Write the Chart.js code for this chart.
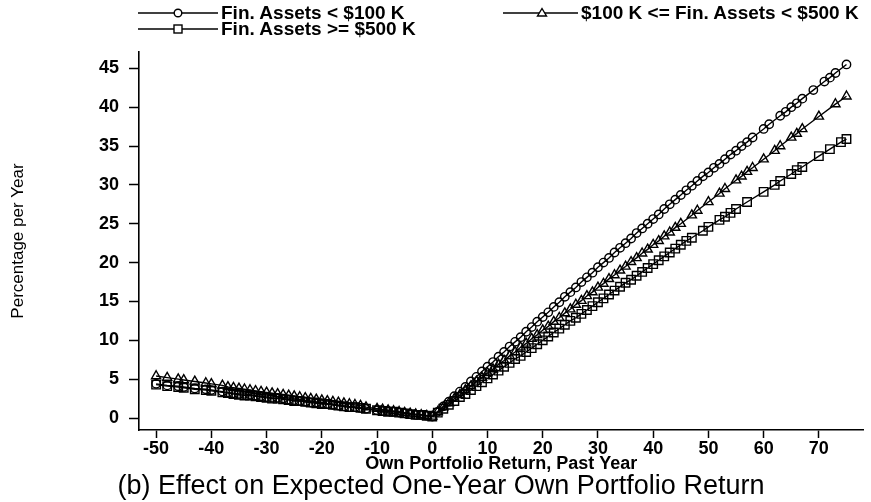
<!DOCTYPE html>
<html><head><meta charset="utf-8">
<script src="https://cdn.jsdelivr.net/npm/chart.js@4.4.0/dist/chart.umd.min.js"></script>
<style>
html,body{margin:0;padding:0;background:#fff;}
#wrap{position:relative;width:871px;height:502px;overflow:hidden;}
#c{position:absolute;left:0;top:0;}
.leg{position:absolute;height:16px;font-family:"Liberation Sans",Arial,sans-serif;font-weight:bold;font-size:19px;line-height:16px;color:#000;white-space:nowrap;display:flex;align-items:center;}
.leg svg{display:block;margin-right:3px;}
</style></head>
<body><div id="wrap"><canvas id="c" width="871" height="502"></canvas>
<div class="leg" style="left:138px;top:5px"><svg width="80" height="16"><line x1="0" y1="8" x2="80" y2="8" stroke="#000" stroke-width="1.5"/><circle cx="40" cy="8" r="3.8" fill="#fff" stroke="#000" stroke-width="1.4"/></svg><span>Fin. Assets &lt; $100 K</span></div>
<div class="leg" style="left:503px;top:5px"><svg width="75" height="16"><line x1="0" y1="8" x2="75" y2="8" stroke="#000" stroke-width="1.5"/><polygon points="39,3.5 43.5,11 34.5,11" fill="#fff" stroke="#000" stroke-width="1.4"/></svg><span>$100 K &lt;= Fin. Assets &lt; $500 K</span></div>
<div class="leg" style="left:138px;top:21px"><svg width="80" height="16"><line x1="0" y1="8" x2="80" y2="8" stroke="#000" stroke-width="1.5"/><rect x="36" y="4" width="8" height="8" fill="#fff" stroke="#000" stroke-width="1.4"/></svg><span>Fin. Assets &gt;= $500 K</span></div>
</div>
<script>
// ---- data ----
const xTickValues = [-50,-40,-30,-20,-10,0,10,20,30,40,50,60,70];
const yTickValues = [0,5,10,15,20,25,30,35,40,45];

const negX = [-50,-48,-46,-45,-43,-41,-40,-38,-37,-36,-35,-34,-33,-32,-31,-30,-29,-28,-27,-26,-25,-24,-23,-22,-21,-20,-19,-18,-17,-16,-15,-14,-13,-12,-10,-9,-8,-7,-6,-5,-4,-3,-2,-1,0];

const lowNegY  = [4.4,4.2,4.1,4.0,3.8,3.7,3.6,3.4,3.3,3.2,3.1,3.1,3.0,2.9,2.8,2.7,2.6,2.6,2.5,2.4,2.3,2.2,2.1,2.0,2.0,1.9,1.8,1.7,1.6,1.5,1.4,1.4,1.3,1.2,1.0,0.9,0.9,0.8,0.7,0.6,0.5,0.4,0.4,0.3,0.2];
const midNegY  = [5.4,5.2,5.0,4.9,4.7,4.5,4.4,4.2,4.0,3.9,3.8,3.7,3.6,3.5,3.4,3.3,3.2,3.1,3.0,2.9,2.8,2.7,2.6,2.5,2.4,2.3,2.2,2.1,2.0,1.9,1.8,1.7,1.6,1.4,1.2,1.1,1.0,0.9,0.8,0.7,0.6,0.5,0.4,0.3,0.2];
const highNegY = [4.3,4.1,4.0,3.9,3.7,3.6,3.5,3.3,3.2,3.1,3.0,2.9,2.9,2.8,2.7,2.6,2.5,2.5,2.4,2.3,2.2,2.2,2.1,2.0,1.9,1.8,1.8,1.7,1.6,1.5,1.4,1.4,1.3,1.2,1.0,0.9,0.8,0.8,0.7,0.6,0.5,0.4,0.4,0.3,0.2];

const lowPosX = [1,2,3,4,5,6,7,8,9,10,11,12,13,14,15,16,17,18,19,20,21,22,23,24,25,26,27,28,29,30,31,32,33,34,35,36,37,38,39,40,41,42,43,44,45,46,47,48,49,50,51,52,53,54,55,56,57,58,60,61,63,64,65,66,67,69,71,72,73,75];
const lowPosY = [0.8,1.5,2.1,2.8,3.4,4.0,4.7,5.3,6.0,6.6,7.2,7.9,8.5,9.2,9.8,10.4,11.1,11.7,12.4,13.0,13.6,14.3,14.9,15.6,16.2,16.8,17.5,18.1,18.7,19.4,20.0,20.6,21.3,21.9,22.5,23.1,23.8,24.4,25.0,25.6,26.2,26.9,27.5,28.1,28.7,29.3,29.9,30.5,31.1,31.6,32.2,32.7,33.3,33.9,34.4,35.0,35.5,36.1,37.2,37.8,38.9,39.4,40.0,40.5,41.1,42.2,43.3,43.8,44.4,45.5];

const midPosX = [1,2,3,4,5,6,7,8,9,10,11,12,13,14,15,16,17,18,19,20,21,22,23,24,25,26,27,28,29,30,31,32,33,34,35,36,37,38,39,40,41,42,43,44,45,47,48,50,52,53,55,56,57,58,60,62,63,65,66,67,70,73,75];
const midPosY = [0.8,1.4,1.9,2.5,3.0,3.6,4.1,4.7,5.2,5.8,6.3,6.9,7.4,8.0,8.5,9.1,9.6,10.2,10.7,11.3,11.8,12.4,12.9,13.5,14.0,14.6,15.1,15.7,16.2,16.8,17.3,17.9,18.4,19.0,19.5,20.1,20.6,21.2,21.7,22.3,22.8,23.4,23.9,24.5,25.0,26.1,26.7,27.8,28.9,29.5,30.6,31.1,31.7,32.2,33.3,34.4,35.0,36.1,36.6,37.2,38.8,40.4,41.4];

const highPosX = [1,2,3,4,5,6,7,8,9,10,11,12,13,14,15,16,17,18,19,20,21,22,23,24,25,26,27,28,29,30,31,32,33,34,35,36,37,38,39,40,41,42,43,44,45,46,47,49,50,52,53,54,55,57,60,62,63,65,66,67,70,72,74,75];
const highPosY = [0.7,1.2,1.7,2.2,2.7,3.1,3.6,4.1,4.6,5.1,5.6,6.1,6.6,7.1,7.6,8.0,8.5,9.0,9.5,10.0,10.5,11.0,11.5,12.0,12.5,12.9,13.4,13.9,14.4,14.9,15.4,15.9,16.4,16.9,17.4,17.8,18.3,18.8,19.3,19.8,20.3,20.8,21.3,21.8,22.3,22.8,23.2,24.1,24.6,25.5,25.9,26.4,26.9,27.8,29.1,30.0,30.5,31.4,31.9,32.3,33.7,34.6,35.5,35.9];

const seriesNames = ['Fin. Assets < $100 K', '$100 K <= Fin. Assets < $500 K', 'Fin. Assets >= $500 K'];

function pts(xa, ya){ return xa.map((x,i)=>({x:x, y:ya[i]})); }

Chart.defaults.font.family = '"Liberation Sans", Arial, sans-serif';
Chart.defaults.color = '#000';

const common = {showLine:true, borderColor:'#000', borderWidth:1.4, pointBorderColor:'#000', pointBackgroundColor:'rgba(0,0,0,0)', pointBorderWidth:1.4, fill:false, tension:0};

new Chart(document.getElementById('c'), {
  type:'scatter',
  data:{datasets:[
    Object.assign({label:seriesNames[0], data:pts(negX.concat(lowPosX), lowNegY.concat(lowPosY)), pointStyle:'circle', pointRadius:4.2}, common),
    Object.assign({label:seriesNames[1], data:pts(negX.concat(midPosX), midNegY.concat(midPosY)), pointStyle:'triangle', pointRadius:5.3}, common),
    Object.assign({label:seriesNames[2], data:pts(negX.concat(highPosX), highNegY.concat(highPosY)), pointStyle:'rect', pointRadius:6}, common)
  ]},
  options:{
    responsive:false, animation:false, devicePixelRatio:1,
    layout:{padding:{top:52, right:3, left:14, bottom:1.5}},
    plugins:{
      legend:{display:false}, tooltip:{enabled:false},
      title:{display:true, position:'bottom', text:'(b) Effect on Expected One-Year Own Portfolio Return',
        font:{size:27, weight:'normal', lineHeight:1.0}, color:'#000', padding:0}
    },
    scales:{
      x:{type:'linear', min:-53.1, max:78.1,
        afterBuildTicks:s=>{ s.ticks = xTickValues.map(v=>({value:v})); },
        afterFit:s=>{ s.height = 43.5; },
        grid:{display:true, drawOnChartArea:false, drawTicks:true, tickLength:8, tickWidth:1.5, tickColor:'#000'},
        border:{display:true, color:'#000', width:1.6},
        ticks:{padding:0, autoSkip:false, maxRotation:0, font:{size:18, weight:'bold'}, color:'#000'},
        title:{display:true, text:'Own Portfolio Return, Past Year', font:{size:18, weight:'bold', lineHeight:1.0}, padding:0, color:'#000'}
      },
      y:{type:'linear', min:-1.54, max:47.1,
        afterBuildTicks:s=>{ s.ticks = yTickValues.map(v=>({value:v})); },
        afterFit:s=>{ s.width = 125; },
        grid:{display:true, drawOnChartArea:false, drawTicks:true, tickLength:10, tickWidth:1.5, tickColor:'#000'},
        border:{display:true, color:'#000', width:1.6},
        ticks:{padding:10, autoSkip:false, font:{size:18, weight:'bold'}, color:'#000'},
        title:{display:true, text:'Percentage per Year', font:{size:17, weight:'normal', lineHeight:1.2}, padding:{top:-6,bottom:0}, color:'#000'}
      }
    }
  }
});
</script>
</body></html>
